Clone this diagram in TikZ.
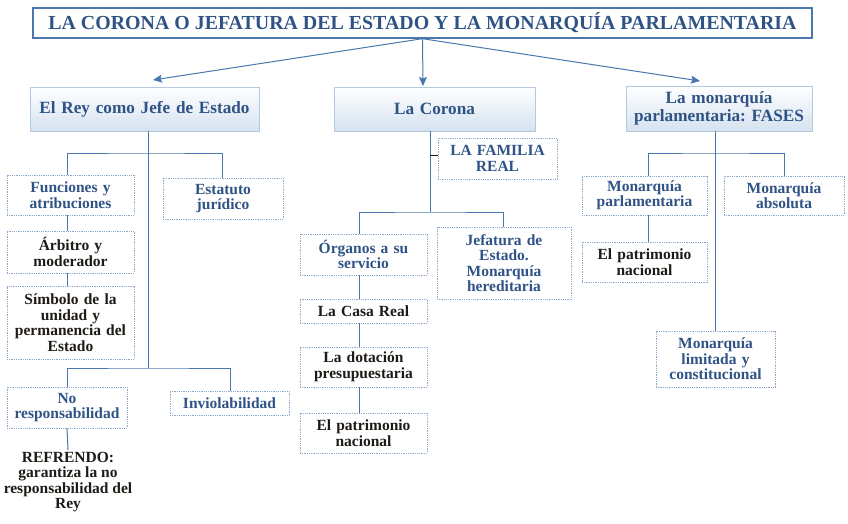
\documentclass[tikz,border=0pt]{standalone}
\usepackage{fontspec}
\setmainfont{Liberation Serif}
\usetikzlibrary{arrows.meta}
\frenchspacing

\definecolor{textblue}{HTML}{2F5385}
\definecolor{lineblue}{HTML}{4A78AE}
\definecolor{dotline}{HTML}{8FA9CB}
\definecolor{headbot}{HTML}{D5E2F0}
\definecolor{headline}{HTML}{B4C8E2}
\definecolor{darktext}{HTML}{1E1A16}

\tikzset{
  link/.style={draw=lineblue, line width=1pt},
  arrowlink/.style={link, -{Stealth[length=9pt,width=8pt,inset=1.5pt]}},
  titlebox/.style={draw=lineblue, line width=1.4pt, fill=white, inner sep=0pt,
    font=\bfseries\fontsize{19.9}{22}\selectfont, text=textblue},
  headbox/.style={draw=headline, line width=0.8pt, top color=white, bottom color=headbot,
    align=center, inner sep=2pt, font=\bfseries\fontsize{17.2}{17.5}\selectfont, text=textblue},
  leafbox/.style={draw=dotline, line width=0.9pt, dash pattern=on 1pt off 0.8pt, fill=white,
    align=center, inner sep=2pt, font=\bfseries\fontsize{15.5}{15.5}\selectfont, text=textblue},
  darkbox/.style={leafbox, text=darktext},
}

\begin{document}
\begin{tikzpicture}[x=1pt, y=-1pt]
  \useasboundingbox (0,0) rectangle (848,523);

  % Title and the three main branches
  \node[titlebox, minimum width=779pt, minimum height=30pt] (title) at (422.5,23)
    {LA CORONA O JEFATURA DEL ESTADO Y LA MONARQUÍA PARLAMENTARIA};
  \node[headbox, text width=225pt, minimum height=44pt] (rey) at (144.5,109) {El Rey como Jefe de Estado};
  \node[headbox, text width=197pt, minimum height=44pt] (corona) at (434.5,109) {La Corona};
  \node[headbox, text width=182pt, minimum height=45pt] (fases) at (719,108.5) {La monarquía\\parlamentaria: FASES};

  \coordinate (t1) at (153,80);
  \coordinate (t2) at (423,86);
  \coordinate (t3) at (700,81);
  \foreach \t in {t1,t2,t3}
    \draw[arrowlink] (title.south) -- (\t);

  % El Rey como Jefe de Estado
  \node[leafbox, text width=123pt, minimum height=40pt] (func) at (70.5,195) {Funciones y\\atribuciones};
  \node[leafbox, text width=116pt, minimum height=41pt] (estat) at (223,198.5) {Estatuto\\jurídico};
  \node[darkbox, text width=123pt, minimum height=42pt] (arbit) at (70.5,252) {Árbitro y\\moderador};
  \node[darkbox, text width=123pt, minimum height=73pt] (simb) at (70.5,322.5) {Símbolo de la\\unidad y\\permanencia del\\Estado};
  \node[leafbox, text width=116pt, minimum height=41pt] (nores) at (67,407.5) {No\\responsabilidad};
  \node[leafbox, text width=115pt, minimum height=24pt] (inviol) at (229.5,403) {Inviolabilidad};
  \node[align=center, anchor=north, inner sep=2pt, text=darktext,
    font=\bfseries\fontsize{15.5}{15.5}\selectfont] (refr) at (68,450)
    {REFRENDO:\\garantiza la no\\responsabilidad del\\Rey};

  \coordinate (jA) at (148,153);
  \coordinate (jB) at (148,368);
  \draw[link] (rey.south -| jA) -- (jB);
  \draw[link] ([xshift=-3.5pt]func.north) |- (jA) -| ([xshift=-1pt]estat.north);
  \draw[link] ([xshift=-3.5pt]func.south) -- ([xshift=-3.5pt]arbit.north);
  \draw[link] ([xshift=-3.5pt]arbit.south) -- ([xshift=-3.5pt]simb.north);
  \draw[link] (nores.north) |- (jB) -| ([xshift=0.5pt]inviol.north);
  \draw[link] (nores.south) -- (refr.north);

  % La Corona
  \node[leafbox, text width=115pt, minimum height=41pt] (familia) at (497.5,158.5) {LA FAMILIA\\REAL};
  \node[leafbox, text width=123pt, minimum height=41pt] (organos) at (363.5,254.5) {Órganos a su\\servicio};
  \node[leafbox, text width=130pt, minimum height=72pt] (jefat) at (504,263) {Jefatura de\\Estado.\\Monarquía\\hereditaria};
  \node[darkbox, text width=123pt, minimum height=24pt] (casa) at (363.5,311) {La Casa Real};
  \node[darkbox, text width=123pt, minimum height=40pt] (dotac) at (363.5,367) {La dotación\\presupuestaria};
  \node[darkbox, text width=123pt, minimum height=40pt] (patri) at (363.5,433) {El patrimonio\\nacional};

  \coordinate (jC) at (430,212);
  \draw[link] (corona.south -| jC) -- (jC);
  \draw[darktext, line width=1pt] ([yshift=3.5pt]familia.west -| jC) -- ([yshift=3.5pt]familia.west);
  \draw[link] ([xshift=-4.5pt]organos.north) |- (jC) -| ([xshift=-1pt]jefat.north);
  \draw[link] ([xshift=-4.5pt]organos.south) -- ([xshift=-4.5pt]casa.north);
  \draw[link] ([xshift=-4.5pt]casa.south) -- ([xshift=-4.5pt]dotac.north);
  \draw[link] ([xshift=-4.5pt]dotac.south) -- ([xshift=-4.5pt]patri.north);

  % La monarquía parlamentaria: FASES
  \node[leafbox, text width=121pt, minimum height=39pt] (mparl) at (644.5,195.5) {Monarquía\\parlamentaria};
  \node[leafbox, text width=116pt, minimum height=39pt] (mabs) at (784,195.5) {Monarquía\\absoluta};
  \node[darkbox, text width=121pt, minimum height=40pt] (patri2) at (644.5,262) {El patrimonio\\nacional};
  \node[leafbox, text width=115pt, minimum height=56pt] (mlim) at (715.5,359) {Monarquía\\limitada y\\constitucional};

  \coordinate (jD) at (715,153);
  \draw[link] (fases.south -| jD) -- ([xshift=-0.5pt]mlim.north);
  \draw[link] ([xshift=3.5pt]mparl.north) |- (jD) -| (mabs.north);
  \draw[link] ([xshift=3.5pt]mparl.south) -- ([xshift=3.5pt]patri2.north);
\end{tikzpicture}
\end{document}
